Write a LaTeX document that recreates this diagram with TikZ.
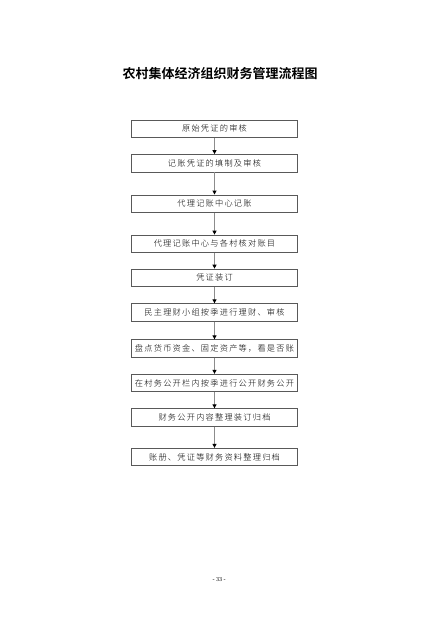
\documentclass[tikz,border=0pt]{standalone}
\usepackage{fontspec}
\setmainfont{Liberation Serif}
\newfontfamily\cjk[LetterSpace=15]{Noto Sans CJK SC Light}
\newfontfamily\cjkb{Noto Sans CJK SC Bold}
\usetikzlibrary{arrows.meta}
\begin{document}
\begin{tikzpicture}[x=1pt,y=-1pt,
  stepbox/.style={draw=black!65,line width=0.8pt,minimum width=166pt,minimum height=17.5pt,inner sep=0pt,font=\cjk\fontsize{8.2}{10}\selectfont},
  link/.style={draw=black!45,line width=0.9pt,-{Triangle[length=4pt,width=4pt,fill=black,color=black]}}]
\useasboundingbox (0,0) rectangle (439,621);
\fill[white] (0,0) rectangle (439,621);
\node[font=\cjkb\fontsize{13}{15}\selectfont] (title) at (220,74) {农村集体经济组织财务管理流程图};
\node[stepbox] (b1) at (214.5,128.8) {原始凭证的审核};
\node[stepbox] (b2) at (214.5,163.3) {记账凭证的填制及审核};
\node[stepbox] (b3) at (214.5,203.7) {代理记账中心记账};
\node[stepbox] (b4) at (214.5,243.8) {代理记账中心与各村核对账目};
\node[stepbox] (b5) at (214.5,277.8) {凭证装订};
\node[stepbox] (b6) at (214.5,312.5) {民主理财小组按季进行理财、审核};
\node[stepbox] (b7) at (214.5,348.5) {盘点货币资金、固定资产等，看是否账};
\node[stepbox] (b8) at (214.5,383) {在村务公开栏内按季进行公开财务公开};
\node[stepbox] (b9) at (214.5,417.5) {财务公开内容整理装订归档};
\node[stepbox] (b10) at (214.5,457) {账册、凭证等财务资料整理归档};
\foreach \a/\b in {b1/b2,b2/b3,b3/b4,b4/b5,b5/b6,b6/b7,b7/b8,b8/b9,b9/b10}
  \draw[link] (\a) -- (\b);
\node[font=\fontsize{6}{7}\selectfont] (page) at (219,580) {- 33 -};
\end{tikzpicture}
\end{document}
